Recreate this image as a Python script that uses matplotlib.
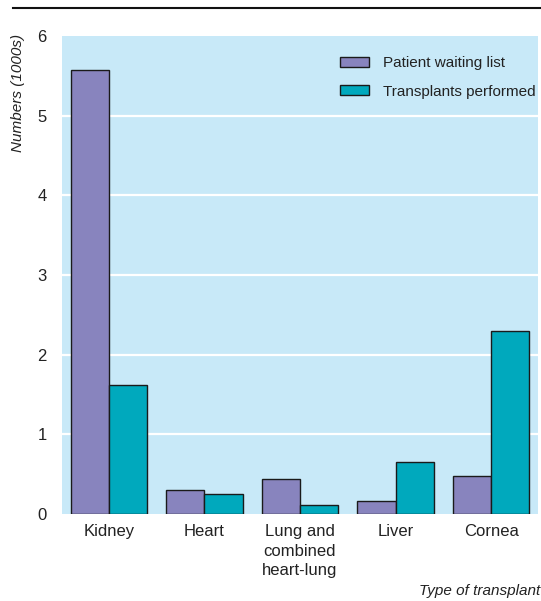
import matplotlib
matplotlib.use("Agg")
import matplotlib.pyplot as plt
import numpy as np
from matplotlib.lines import Line2D

# Data (thousands)
categories = ["Kidney", "Heart", "Lung and\ncombined\nheart-lung", "Liver", "Cornea"]
waiting_list = [5.57, 0.30, 0.44, 0.16, 0.48]
transplants = [1.62, 0.25, 0.11, 0.65, 2.30]
series_names = ["Patient waiting list", "Transplants performed"]
yticks = [0, 1, 2, 3, 4, 5, 6]

PURPLE = "#8884be"
TEAL = "#00a9bd"
BG = "#c8e9f8"
EDGE = "#1a1a1a"

plt.rcParams['font.family'] = ['Liberation Sans', 'DejaVu Sans']

fig = plt.figure(figsize=(5.41, 6.01), dpi=100)
ax = fig.add_axes([62 / 541, 1 - 514 / 601, 476 / 541, 478 / 601])
ax.set_facecolor(BG)

x = np.arange(len(categories))
w = 0.40
ax.bar(x - w / 2, waiting_list, w, color=PURPLE, edgecolor=EDGE, linewidth=1.0,
       label=series_names[0], zorder=3)
ax.bar(x + w / 2, transplants, w, color=TEAL, edgecolor=EDGE, linewidth=1.0,
       label=series_names[1], zorder=3)

ax.set_xlim(-0.49, len(categories) - 0.51)
ax.set_ylim(0, 6)
ax.set_yticks(yticks)
ax.set_yticklabels([str(t) for t in yticks])
ax.set_xticks(x)
ax.set_xticklabels(categories, linespacing=1.4)
ax.tick_params(axis='both', length=0, labelsize=12, colors="#222222")
ax.tick_params(axis='y', pad=11)
ax.tick_params(axis='x', pad=7)
for y in yticks[1:-1]:
    ax.axhline(y, color="white", linewidth=1.6, zorder=1)
for s in ax.spines.values():
    s.set_visible(False)

leg = ax.legend(loc="upper left", bbox_to_anchor=(0.584, 0.958), frameon=False,
                fontsize=11, handlelength=1.9, handleheight=0.65,
                handletextpad=0.9, labelspacing=0.95, borderpad=0, borderaxespad=0)
for t in leg.get_texts():
    t.set_color("#222222")

fig.text(18 / 541, 1 - 34 / 601, "Numbers (1000s)", rotation=90, va="top", ha="center",
         fontsize=11, style="italic", color="#222222")
fig.text(540 / 541, 1 - 591 / 601, "Type of transplant", ha="right", va="center",
         fontsize=11, style="italic", color="#222222")

fig.add_artist(Line2D([13 / 541, 1.0], [1 - 8 / 601, 1 - 8 / 601], color="#111111",
                      linewidth=1.5, transform=fig.transFigure))

fig.savefig("out.png", dpi=100)
